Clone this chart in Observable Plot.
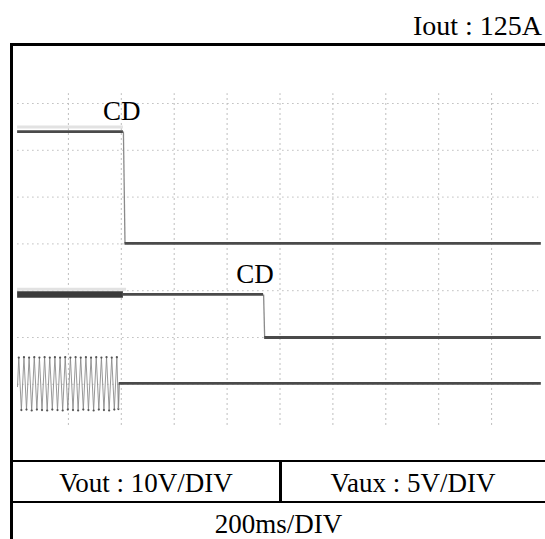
<!DOCTYPE html>
<html><head><meta charset="utf-8">
<script src="https://cdn.jsdelivr.net/npm/d3@7"></script>
<script src="https://cdn.jsdelivr.net/npm/@observablehq/plot@0.6"></script>
<style>
html,body{margin:0;padding:0;background:#fff;}
#wrap{position:relative;width:545px;height:539px;overflow:hidden;font-family:"Liberation Serif","Times New Roman",serif;color:#000;}
#chart{position:absolute;left:0;top:0;}
.t{position:absolute;height:0;line-height:0;white-space:nowrap;font-size:27px;}
.ln{position:absolute;background:#000;}
</style></head><body>
<div id="wrap">
  <div id="chart"></div>
  <div class="ln" style="left:10px;top:43px;width:535px;height:3px"></div>
  <div class="ln" style="left:10px;top:43px;width:3px;height:496px"></div>
  <div class="ln" style="left:10px;top:459.5px;width:535px;height:2.5px"></div>
  <div class="ln" style="left:10px;top:500.5px;width:535px;height:2.5px"></div>
  <div class="ln" style="left:279px;top:461px;width:2.5px;height:41px"></div>
  <div class="t" id="title" style="right:3px;top:25.5px;font-size:28px"></div>
  <div class="t" id="lab0" style="left:12px;width:268px;text-align:center;top:482.9px"></div>
  <div class="t" id="lab1" style="left:281px;width:264px;text-align:center;top:482.9px"></div>
  <div class="t" id="lab2" style="left:12px;width:533px;text-align:center;top:523.5px"></div>
</div>
<script>
// ---- text ----
const titleText = "Iout : 125A";
const scaleLabels = ["Vout : 10V/DIV", "Vaux : 5V/DIV"];
const timebaseLabel = "200ms/DIV";

// ---- grid (divisions) ----
const gridXTicks = [1, 2, 3, 4, 5, 6, 7, 8, 9];
const gridYTicks = [1, 2, 3, 4, 5, 6, 7];
const gridXSpan = [0.12, 7.21];   // vertical extent of time grid lines
const gridYSpan = [0.04, 9.89];   // horizontal extent of level grid lines

// ---- channel 1 (Vout) ----
const ch1Time  = [0.04, 2.04, 2.07, 9.94];
const ch1Level = [6.40, 6.40, 4.01, 4.01];
const ch1GhostTime  = [0.04, 2.04];
const ch1GhostLevel = [6.50, 6.50];

// ---- channel 2 ----
const ch2Time  = [0.04, 2.04, 4.69, 4.71, 9.94];
const ch2Level = [2.92, 2.92, 2.92, 2.00, 2.00];
const ch2RippleEnd = 2.04;
const ch2GhostTime  = [0.04, 2.10];
const ch2GhostLevel = [3.03, 3.03];

// ---- channel 3 (oscillating then flat) ----
const ch3OscTime = [0.038, 0.062, 0.111, 0.160, 0.208, 0.257, 0.306, 0.355, 0.404, 0.452, 0.501,
  0.550, 0.599, 0.648, 0.696, 0.745, 0.794, 0.843, 0.892, 0.940, 0.989, 1.038, 1.087, 1.136,
  1.184, 1.233, 1.282, 1.331, 1.379, 1.428, 1.477, 1.526, 1.575, 1.624, 1.672, 1.721, 1.770,
  1.819, 1.868, 1.916, 1.945];
const ch3OscLevel = [0.95, 1.57, 0.45, 1.58, 0.46, 1.57, 0.44, 1.58, 0.46, 1.57, 0.45,
  1.58, 0.44, 1.57, 0.46, 1.58, 0.45, 1.57, 0.44, 1.58, 0.46, 1.57, 0.45, 1.58,
  0.44, 1.57, 0.46, 1.58, 0.45, 1.57, 0.44, 1.58, 0.46, 1.57, 0.45, 1.58, 0.44,
  1.57, 0.46, 1.58, 0.47];
const ch3Time  = [1.945, 1.96, 9.94];
const ch3Level = [0.47, 1.02, 1.02];

// ---- annotations ----
const cdText  = ["CD", "CD"];
const cdTime  = [2.007, 4.527];
const cdLevel = [6.637, 3.154];

document.getElementById("title").textContent = titleText;
document.getElementById("lab0").textContent = scaleLabels[0];
document.getElementById("lab1").textContent = scaleLabels[1];
document.getElementById("lab2").textContent = timebaseLabel;

function segments(time, level) {
  const flat = [], steps = [];
  for (let i = 0; i < time.length - 1; i++) {
    if (level[i] === level[i + 1]) flat.push({x1: time[i], x2: time[i + 1], y: level[i]});
    else steps.push({x1: time[i], x2: time[i + 1], y1: level[i], y2: level[i + 1]});
  }
  return {flat, steps};
}
const s1 = segments(ch1Time, ch1Level);
const s2 = segments(ch2Time, ch2Level);
const s3 = segments(ch3Time, ch3Level);
const flatAll = [...s1.flat, ...s2.flat.filter(d => d.x2 > ch2RippleEnd), ...s3.flat];
const rippleFlat = s2.flat.filter(d => d.x2 <= ch2RippleEnd);
const stepsAll = [...s1.steps, ...s2.steps, ...s3.steps];
const ghosts = [
  {x1: ch1GhostTime[0], x2: ch1GhostTime[1], y: ch1GhostLevel[0]},
  {x1: ch2GhostTime[0], x2: ch2GhostTime[1], y: ch2GhostLevel[0]}
];
const osc = ch3OscTime.map((t, i) => ({t, v: ch3OscLevel[i]}));
const cd = cdText.map((s, i) => ({s, t: cdTime[i], v: cdLevel[i]}));

const chart = Plot.plot({
  width: 545, height: 539,
  marginLeft: 15, marginRight: 1, marginTop: 56.2, marginBottom: 108.4,
  x: {domain: [0, 10], axis: null},
  y: {domain: [0, 8], axis: null},
  style: {background: "transparent", overflow: "visible"},
  marks: [
    Plot.ruleX(gridXTicks, {x: d => d, y1: gridXSpan[0], y2: gridXSpan[1], stroke: "#bdbdbd", strokeWidth: 1, strokeDasharray: "2,3"}),
    Plot.ruleY(gridYTicks, {y: d => d, x1: gridYSpan[0], x2: gridYSpan[1], stroke: "#bdbdbd", strokeWidth: 1, strokeDasharray: "1.5,3.5"}),
    Plot.ruleY(ghosts, {x1: "x1", x2: "x2", y: "y", stroke: "#e2e2e2", strokeWidth: 3}),
    Plot.line(osc, {x: "t", y: "v", stroke: "#8c8c8c", strokeWidth: 0.9, curve: "linear"}),
    Plot.dot(osc.slice(1), {x: "t", y: "v", r: 1.1, fill: "#555", stroke: "none"}),
    Plot.link(stepsAll, {x1: "x1", y1: "y1", x2: "x2", y2: "y2", stroke: "#8a8a8a", strokeWidth: 1.3}),
    Plot.ruleY(rippleFlat, {x1: "x1", x2: "x2", y: "y", stroke: "#3a3a3a", strokeWidth: 6.5}),
    Plot.ruleY(flatAll, {x1: "x1", x2: "x2", y: "y", stroke: "#4a4a4a", strokeWidth: 2.8}),
    Plot.text(cd, {x: "t", y: "v", text: "s", textAnchor: "middle", lineAnchor: "bottom", fontSize: 27, fontFamily: "'Liberation Serif','Times New Roman',serif", fill: "#000"})
  ]
});
document.getElementById("chart").appendChild(chart);
</script>
</body></html>
